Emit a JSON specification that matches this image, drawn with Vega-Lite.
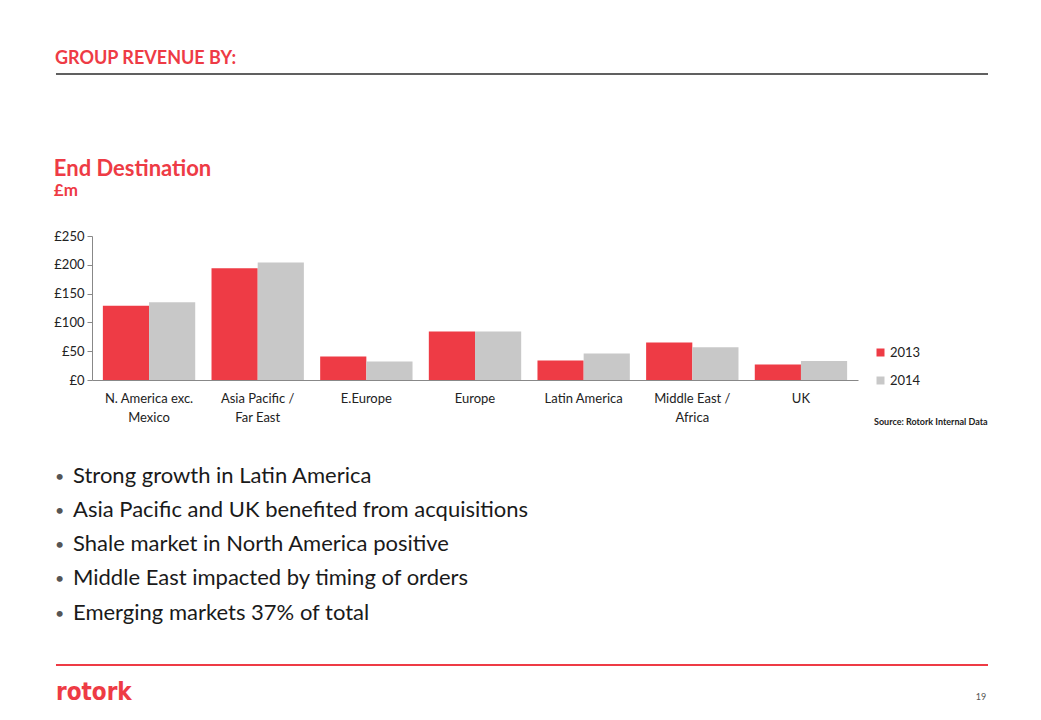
{
  "$schema": "https://vega.github.io/schema/vega-lite/v6.json",
  "background": "white",
  "padding": {"left": 53, "top": 50, "right": 0, "bottom": 0},
  "spacing": 0,
  "config": {"font": "Lato", "view": {"stroke": null}},
  "vconcat": [
    {
      "width": 896,
      "height": 84,
      "title": {"text": "GROUP REVENUE BY:", "anchor": "start", "frame": "bounds", "fontSize": 18, "fontWeight": "bold", "color": "#EE3B45", "offset": 5},
      "data": {"values": [{"v": 1, "a": -0.0402, "b": 1}]},
      "mark": {"type": "rule", "color": "#606060", "strokeWidth": 2},
      "encoding": {
        "x": {"field": "a", "type": "quantitative", "axis": null, "scale": {"domain": [0, 1]}},
        "x2": {"field": "b"},
        "y": {"field": "v", "type": "quantitative", "axis": null, "scale": {"domain": [0, 1]}}
      }
    },
    {
      "width": 766,
      "height": 144,
      "title": {"text": "End Destination", "subtitle": "£m", "anchor": "start", "frame": "bounds", "fontSize": 22, "fontWeight": "bold", "color": "#EE3B45", "subtitleFontSize": 17, "subtitleFontWeight": "bold", "subtitleColor": "#EE3B45", "subtitlePadding": 2, "offset": 30},
      "data": {"values": [
        {"region": "N. America exc. Mexico", "year": "2013", "value": 129},
        {"region": "N. America exc. Mexico", "year": "2014", "value": 135},
        {"region": "Asia Pacific / Far East", "year": "2013", "value": 194},
        {"region": "Asia Pacific / Far East", "year": "2014", "value": 204},
        {"region": "E.Europe", "year": "2013", "value": 41},
        {"region": "E.Europe", "year": "2014", "value": 32},
        {"region": "Europe", "year": "2013", "value": 84},
        {"region": "Europe", "year": "2014", "value": 84},
        {"region": "Latin America", "year": "2013", "value": 34},
        {"region": "Latin America", "year": "2014", "value": 46},
        {"region": "Middle East / Africa", "year": "2013", "value": 65},
        {"region": "Middle East / Africa", "year": "2014", "value": 57},
        {"region": "UK", "year": "2013", "value": 27},
        {"region": "UK", "year": "2014", "value": 33}
      ]},
      "mark": {"type": "bar"},
      "encoding": {
        "x": {
          "field": "region", "type": "nominal", "sort": null,
          "scale": {"paddingInner": 0.15, "paddingOuter": 0.1},
          "axis": {
            "title": null, "labelAngle": 0, "ticks": false, "domainColor": "#888888", "domainWidth": 1,
            "labelFontSize": 13, "labelColor": "#222222", "labelPadding": 12, "labelLineHeight": 19,
            "labelExpr": "datum.label == 'N. America exc. Mexico' ? ['N. America exc.', 'Mexico'] : datum.label == 'Asia Pacific / Far East' ? ['Asia Pacific /', 'Far East'] : datum.label == 'Middle East / Africa' ? ['Middle East /', 'Africa'] : datum.label"
          }
        },
        "xOffset": {"field": "year", "type": "nominal"},
        "y": {
          "field": "value", "type": "quantitative",
          "scale": {"domain": [0, 250]},
          "axis": {
            "title": null, "values": [0, 50, 100, 150, 200, 250], "grid": false,
            "labelExpr": "'£' + datum.value", "tickSize": 5, "domainColor": "#888888", "tickColor": "#888888",
            "labelFontSize": 13, "labelColor": "#222222", "labelPadding": 3
          }
        },
        "color": {
          "field": "year", "type": "nominal",
          "scale": {"range": ["#EE3B45", "#C8C8C8"]},
          "legend": {
            "orient": "none", "legendX": 782, "legendY": 272, "padding": 0,
            "symbolType": "square", "symbolSize": 64, "symbolStrokeWidth": 0,
            "labelFontSize": 13, "labelColor": "#222222", "labelOffset": 3, "rowPadding": 14,
            "title": "Source: Rotork Internal Data", "titleOrient": "bottom", "titleAnchor": "start",
            "titleFontSize": 9, "titleFontWeight": "bold", "titleColor": "#222222", "titlePadding": 30
          }
        }
      }
    },
    {
      "width": 896,
      "height": 240,
      "data": {"values": [
        {"i": 1, "t": "Strong growth in Latin America"},
        {"i": 2, "t": "Asia Pacific and UK benefited from acquisitions"},
        {"i": 3, "t": "Shale market in North America positive"},
        {"i": 4, "t": "Middle East impacted by timing of orders"},
        {"i": 5, "t": "Emerging markets 37% of total"}
      ]},
      "encoding": {
        "y": {"field": "i", "type": "quantitative", "scale": {"domain": [-0.504, 6.503], "reverse": true, "zero": false, "nice": false}, "axis": null}
      },
      "layer": [
        {
          "mark": {"type": "text", "align": "left", "baseline": "middle", "fontSize": 16, "color": "#555555", "dy": 1},
          "encoding": {
            "x": {"datum": -0.0413, "type": "quantitative", "scale": {"domain": [0, 1]}, "axis": null},
            "text": {"value": "•"}
          }
        },
        {
          "mark": {"type": "text", "align": "left", "baseline": "middle", "fontSize": 22, "color": "#1A1A1A"},
          "encoding": {
            "x": {"datum": -0.0212, "type": "quantitative"},
            "text": {"field": "t"}
          }
        }
      ]
    },
    {
      "width": 896,
      "height": 50,
      "layer": [
        {
          "data": {"values": [{"v": 1, "a": -0.0402, "b": 1}]},
          "mark": {"type": "rule", "color": "#EE3B45", "strokeWidth": 2},
          "encoding": {
            "x": {"field": "a", "type": "quantitative", "scale": {"domain": [0, 1]}, "axis": null},
            "x2": {"field": "b"},
            "y": {"field": "v", "type": "quantitative", "scale": {"domain": [0, 1]}, "axis": null}
          }
        },
        {
          "data": {"values": [{"t": "rotork"}]},
          "mark": {"type": "text", "align": "left", "baseline": "alphabetic", "font": "DejaVu Sans Condensed, DejaVu Sans", "fontWeight": "bold", "fontSize": 24, "color": "#EE3B45"},
          "encoding": {
            "x": {"datum": -0.0402, "type": "quantitative"},
            "y": {"datum": 0.3, "type": "quantitative"},
            "text": {"field": "t"}
          }
        },
        {
          "data": {"values": [{"t": "19"}]},
          "mark": {"type": "text", "align": "right", "baseline": "alphabetic", "fontSize": 9, "color": "#555555"},
          "encoding": {
            "x": {"datum": 0.998, "type": "quantitative"},
            "y": {"datum": 0.3, "type": "quantitative"},
            "text": {"field": "t"}
          }
        }
      ]
    }
  ]
}
